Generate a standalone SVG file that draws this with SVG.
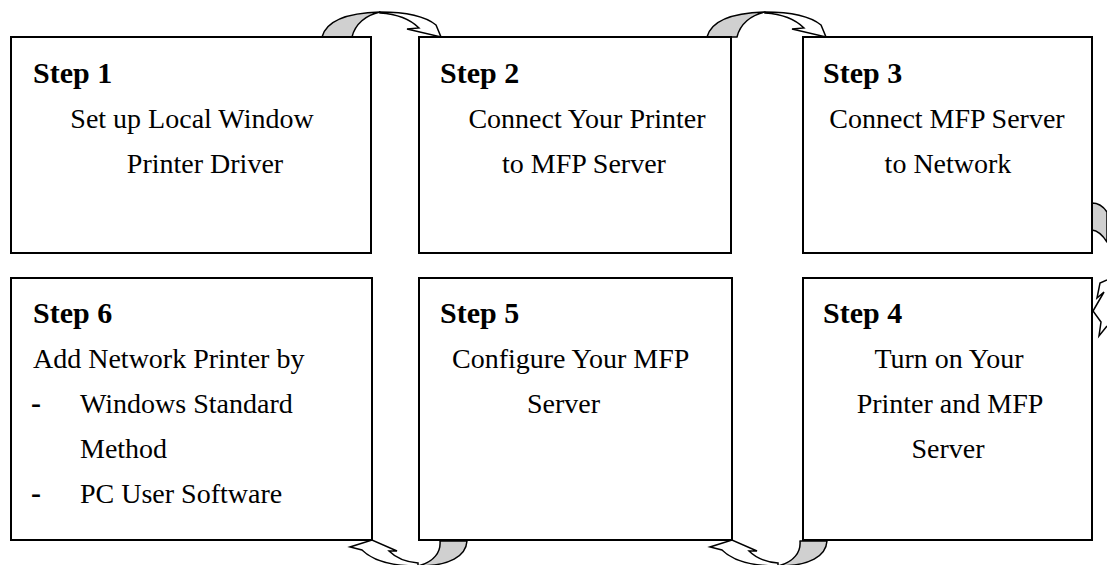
<svg xmlns="http://www.w3.org/2000/svg" width="1107" height="565" viewBox="0 0 1107 565">
<style>
.box{fill:#fff;stroke:#000;stroke-width:2}
.t{font-family:"Liberation Serif","Times New Roman",serif;font-size:28px;fill:#000}
.h{font-family:"Liberation Serif","Times New Roman",serif;font-size:30px;font-weight:bold;fill:#000}
.c{text-anchor:middle}
.g{fill:#d0d0d0;stroke:#000;stroke-width:1.5;stroke-linejoin:round}
.w{fill:#fff;stroke:#000;stroke-width:1.5;stroke-linejoin:miter}
</style>
<defs>
<g id="topArrow">
<path class="w" d="M380,12 C405,12 425,16 436,25 L441,37 L407,29 L419,28 C410,19 396,14 380,13 Z"/>
<path class="g" d="M322,37 C326,22 345,13 380,12 C366,15 355,24 352,37 Z"/>
</g>
<g id="botArrow">
<path class="w" d="M418,566 C392,566 372,560 362,550 L350,547 L372,540 L397,551 L389,551 C396,558 406,562 418,563 Z"/>
<path class="g" d="M440,541 L467,541 C466,556 450,566 418,566 C434,562 441,552 440,541 Z"/>
</g>
</defs>
<g id="connectors">
<use href="#topArrow"/>
<use href="#topArrow" transform="translate(385,0)"/>
<use href="#botArrow"/>
<use href="#botArrow" transform="translate(360,0)"/>
<path class="g" d="M1092,203 Q1101,203 1107,212 L1107,242 Q1100,231 1092,230 Z"/>
<path class="w" fill="none" d="M1107,280 L1100,283 L1097,298 L1104,292 L1093,311 L1101,322 L1099,336 L1107,326"/>
</g>
<g id="step1">
<rect class="box" x="11" y="37" width="360" height="216"/>
<text class="h" x="33" y="83">Step 1</text>
<text class="t c" x="192" y="128">Set up Local Window</text>
<text class="t c" x="205" y="173">Printer Driver</text>
</g>
<g id="step2">
<rect class="box" x="419" y="37" width="312" height="216"/>
<text class="h" x="440" y="83">Step 2</text>
<text class="t c" x="587" y="128">Connect Your Printer</text>
<text class="t c" x="584" y="173">to MFP Server</text>
</g>
<g id="step3">
<rect class="box" x="803" y="37" width="289" height="216"/>
<text class="h" x="823" y="83">Step 3</text>
<text class="t c" x="947" y="128">Connect MFP Server</text>
<text class="t c" x="948" y="173">to Network</text>
</g>
<g id="step6">
<rect class="box" x="11" y="278" width="361" height="262"/>
<text class="h" x="33" y="323">Step 6</text>
<text class="t" x="33" y="368">Add Network Printer by</text>
<text class="h" x="31" y="413">-</text>
<text class="t" x="80" y="413">Windows Standard</text>
<text class="t" x="80" y="458">Method</text>
<text class="h" x="31" y="503">-</text>
<text class="t" x="80" y="503">PC User Software</text>
</g>
<g id="step5">
<rect class="box" x="419" y="278" width="313" height="262"/>
<text class="h" x="440" y="323">Step 5</text>
<text class="t" x="452" y="368">Configure Your MFP</text>
<text class="t" x="527" y="413">Server</text>
</g>
<g id="step4">
<rect class="box" x="803" y="278" width="289" height="262"/>
<text class="h" x="823" y="323">Step 4</text>
<text class="t c" x="949" y="368">Turn on Your</text>
<text class="t c" x="950" y="413">Printer and MFP</text>
<text class="t c" x="948" y="458">Server</text>
</g>
</svg>
